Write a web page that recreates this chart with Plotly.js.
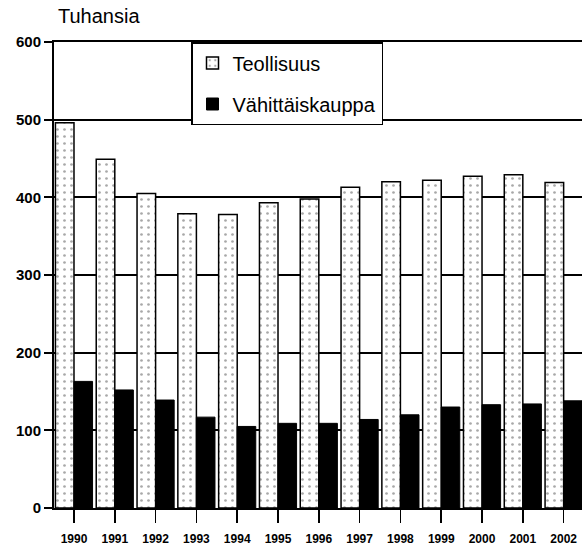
<!DOCTYPE html>
<html>
<head>
<meta charset="utf-8">
<script src="https://cdn.plot.ly/plotly-3.0.1.min.js"></script>
<style>html,body{margin:0;padding:0;background:#fff;}</style>
</head>
<body>
<div id="chart" style="width:582px;height:545px;"></div>
<script>
const years = ['1990','1991','1992','1993','1994','1995','1996','1997','1998','1999','2000','2001','2002'];
const teollisuus = [496, 449, 405, 379, 378, 393, 398, 413, 420, 422, 427, 429, 419];
const vahittaiskauppa = [163, 152, 139, 117, 105, 109, 109, 114, 120, 130, 133, 134, 138];
const seriesNames = ['Teollisuus', 'Vähittäiskauppa'];
const yTicks = [0, 100, 200, 300, 400, 500, 600];

const traces = [
  {
    type: 'bar', x: years, y: teollisuus, name: seriesNames[0], legendgroup: 'a',
    marker: {
      color: '#ffffff',
      line: {color: '#000000', width: 1.5},
      pattern: {shape: '.', bgcolor: '#ffffff', fgcolor: '#a8a8a8', size: 7, solidity: 0.12}
    },
    hoverinfo: 'x+y'
  },
  {
    type: 'bar', x: years, y: vahittaiskauppa, name: seriesNames[1], legendgroup: 'b',
    marker: {color: '#000000', line: {color: '#000000', width: 1}},
    hoverinfo: 'x+y'
  }
];

const layout = {
  width: 582, height: 545,
  margin: {l: 54, r: 0, t: 42, b: 37},
  paper_bgcolor: '#ffffff', plot_bgcolor: '#ffffff',
  font: {family: '"Liberation Sans", Arial, sans-serif', color: '#000000'},
  barmode: 'group', bargap: 0.09, bargroupgap: 0,
  title: {
    text: 'Tuhansia', xref: 'container', yref: 'container',
    x: 58/582, xanchor: 'left', y: 1 - 9/545, yanchor: 'top',
    font: {size: 20, color: '#000000'}
  },
  xaxis: {
    type: 'category', range: [-0.49, 12.45],
    showline: true, linecolor: '#000000', linewidth: 2, mirror: true,
    ticks: 'outside', ticklen: 13, tickwidth: 1.5, tickcolor: '#000000',
    showgrid: false, ticklabelstandoff: 6,
    tickfont: {size: 12, weight: 'bold'}
  },
  yaxis: {
    range: [0, 600], tickvals: yTicks,
    showline: true, linecolor: '#000000', linewidth: 2,
    ticks: 'outside', ticklen: 8, tickwidth: 2, tickcolor: '#000000',
    showgrid: true, gridcolor: '#000000', gridwidth: 2,
    zeroline: false,
    tickfont: {size: 15, weight: 'bold'}
  },
  showlegend: true,
  legend: {
    x: (191 - 54) / 528, xanchor: 'left', y: 1, yanchor: 'top',
    bgcolor: '#ffffff', bordercolor: '#000000', borderwidth: 1.5,
    font: {size: 20, color: '#000000'},
    traceorder: 'grouped', tracegroupgap: 12, itemwidth: 30
  }
};

Plotly.newPlot('chart', traces, layout, {displayModeBar: false, staticPlot: true});
</script>
</body>
</html>
